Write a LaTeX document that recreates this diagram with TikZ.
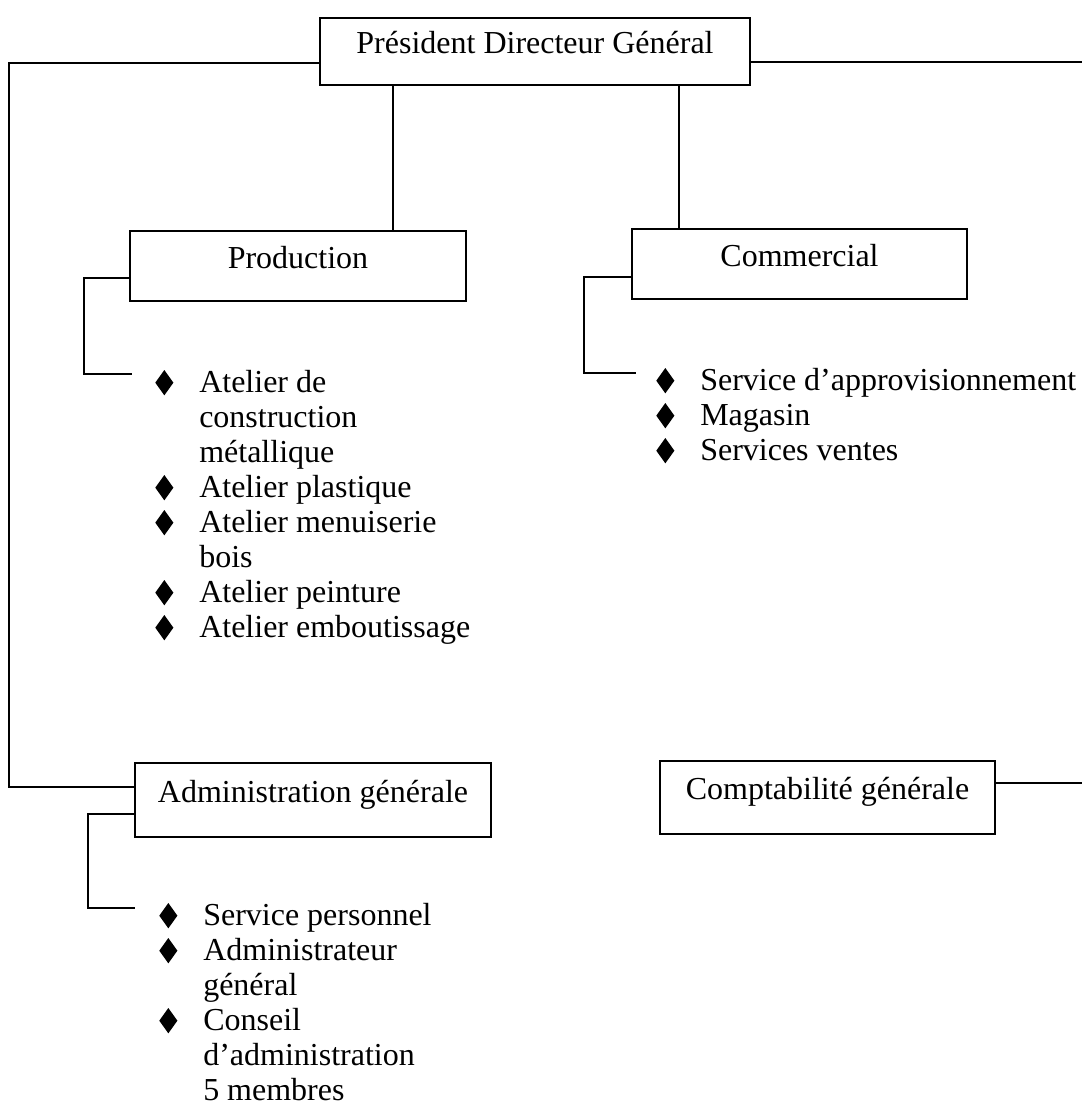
\documentclass[tikz,border=0pt]{standalone}
\usepackage{fontspec}
\setmainfont{Liberation Serif}
\newcommand{\dmd}{\tikz[baseline=0pt,x=1pt,y=1pt]\fill[black] (6.8,-2.5) -- (13.6,7) -- (6.8,16.5) -- (0,7) -- cycle;}
\begin{document}
\begin{tikzpicture}[x=0.75pt,y=-0.75pt,
  box/.style={draw, line width=1.3pt, inner sep=0pt, text height=13.5pt, text depth=10.5pt, font=\fontsize{24}{26.25}\selectfont},
  conn/.style={line width=1.2pt},
  lst/.style={anchor=base west, inner sep=0pt, font=\fontsize{24}{26.25}\selectfont}]
\useasboundingbox (0,0) rectangle (1082,1117);

\node[box, minimum width=322.5pt, minimum height=50.25pt] (pdg) at (535,51.5) {Président Directeur Général};
\node[box, minimum width=252pt, minimum height=52.5pt] (prod) at (298,266) {Production};
\node[box, minimum width=251.25pt, minimum height=52.5pt] (com) at (799.5,264) {Commercial};
\node[box, minimum width=267pt, minimum height=55.5pt] (adm) at (313,800) {Administration générale};
\node[box, minimum width=251.25pt, minimum height=54.75pt] (cpt) at (827.5,797.5) {Comptabilité générale};

\node[lst] (lprod) at (155,392) {\begin{tabular}[t]{@{}p{33pt}@{}l@{}}
\dmd & Atelier de\\
  & construction\\
  & métallique\\
\dmd & Atelier plastique\\
\dmd & Atelier menuiserie\\
  & bois\\
\dmd & Atelier peinture\\
\dmd & Atelier emboutissage
\end{tabular}};

\node[lst] (lcom) at (656,390) {\begin{tabular}[t]{@{}p{33pt}@{}l@{}}
\dmd & Service d’approvisionnement\\
\dmd & Magasin\\
\dmd & Services ventes
\end{tabular}};

\node[lst] (ladm) at (159,925) {\begin{tabular}[t]{@{}p{33pt}@{}l@{}}
\dmd & Service personnel\\
\dmd & Administrateur\\
  & général\\
\dmd & Conseil\\
  & d’administration\\
  & 5 membres
\end{tabular}};

\coordinate (a1) at (9,63);
\coordinate (a2) at (9,787);
\draw[conn] (pdg.west |- a1) -- (a1) -- (a2) -- (adm.west |- a2);
\coordinate (r1) at (1082,62);
\draw[conn] (pdg.east |- r1) -- (r1);
\coordinate (v1) at (393,0);
\draw[conn] (pdg.south -| v1) -- (prod.north -| v1);
\coordinate (v2) at (679,0);
\draw[conn] (pdg.south -| v2) -- (com.north -| v2);
\coordinate (p1) at (84,278);
\coordinate (p2) at (132,374);
\draw[conn] (prod.west |- p1) -- (p1) |- (p2);
\coordinate (c1) at (584,277);
\coordinate (c2) at (636,373);
\draw[conn] (com.west |- c1) -- (c1) |- (c2);
\coordinate (d1) at (88,814);
\coordinate (d2) at (135,908);
\draw[conn] (adm.west |- d1) -- (d1) |- (d2);
\coordinate (e1) at (1082,783);
\draw[conn] (cpt.east |- e1) -- (e1);
\end{tikzpicture}
\end{document}
